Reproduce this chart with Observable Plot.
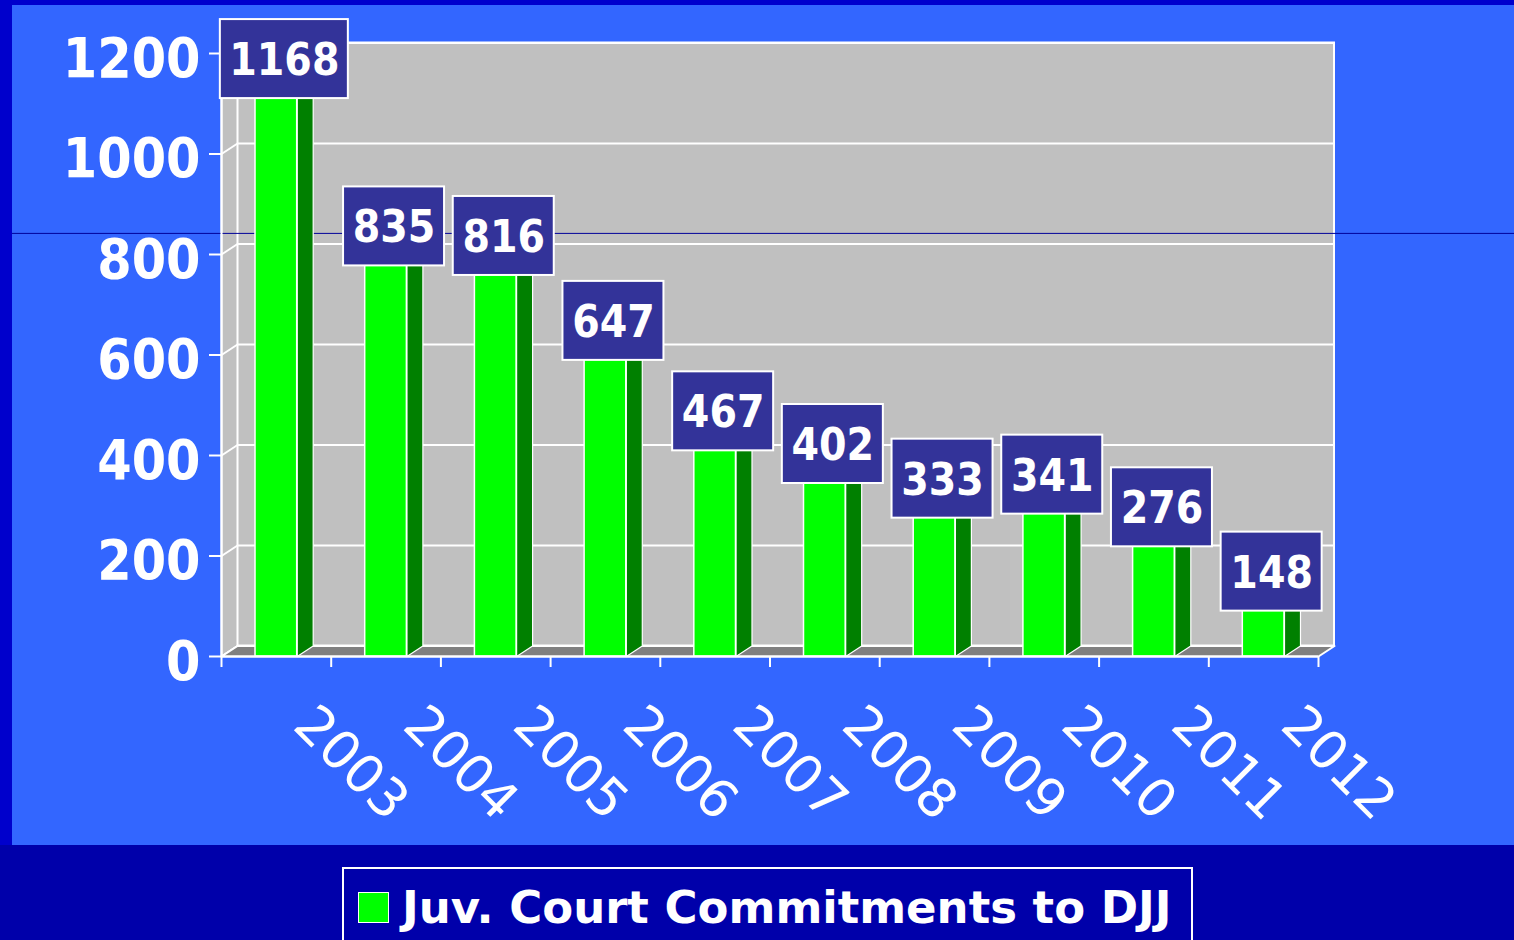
<!DOCTYPE html>
<html>
<head>
<meta charset="utf-8">
<script src="https://cdn.jsdelivr.net/npm/d3@7"></script>
<script src="https://cdn.jsdelivr.net/npm/@observablehq/plot@0.6"></script>
<style>
  html, body { margin: 0; padding: 0; background: #0000AA; }
  #page { position: relative; width: 1514px; height: 940px; overflow: hidden; background: #0000AA; }
  #topband { position: absolute; left: 0; top: 0; width: 1514px; height: 845px; background: #0000CC; }
  #chart { position: absolute; left: 12px; top: 5px; width: 1502px; height: 840px; }
  #chart svg { display: block; overflow: visible; }
  g[aria-label="year-labels"] text { letter-spacing: 3px; }
  #legend { position: absolute; left: 342px; top: 867px; width: 851px; height: 110px; box-sizing: border-box;
            border: 2px solid #ffffff; background: #0000AA; }
  #legend .sw { position: absolute; left: 14px; top: 23px; width: 31px; height: 31px; box-sizing: border-box;
                background: #00FF00; border: 1.5px solid #ffffff; }
  #legend .lab { position: absolute; left: 58px; top: 16px; white-space: nowrap; color: #ffffff;
                 font-family: "DejaVu Sans", Verdana, sans-serif; font-weight: bold; font-size: 45px; line-height: 45px; }
</style>
</head>
<body>
<div id="page">
  <div id="topband"></div>
  <div id="chart"></div>
  <div id="legend"><div class="sw"></div><div class="lab">Juv. Court Commitments to DJJ</div></div>
</div>
<script>
// ---- data ----
const years = ["2003", "2004", "2005", "2006", "2007", "2008", "2009", "2010", "2011", "2012"];
const commitments = [1168, 835, 816, 647, 467, 402, 333, 341, 276, 148];
const yTicks = [0, 200, 400, 600, 800, 1000, 1200];
const stripeLine = [842];
const seriesName = "Juv. Court Commitments to DJJ";

// ---- geometry ----
const W = 1502, H = 840;
const ML = 209, MR = 196, MT = 48, MB = 189;
const N = years.length;
const xPx = (W - ML - MR) / N;          // pixels per category
const yPx = (H - MT - MB) / 1200;       // pixels per unit
const DEPTH_X = 16, DEPTH_Y = 10.5;     // 3-D depth in pixels
const dxu = DEPTH_X / xPx, dyu = DEPTH_Y / yPx;
const FRONT_L = 0.31, FRONT_R = 0.69;   // bar front face within category

const rows = years.map((year, i) => ({year, i, value: commitments[i]}));
const xTickPos = years.map((_, i) => i).concat([N]);

// side faces of bars
const sides = rows.flatMap(d => {
  const xr = d.i + FRONT_R;
  return [
    {year: d.year, x: xr, y: 0},
    {year: d.year, x: xr + dxu, y: dyu},
    {year: d.year, x: xr + dxu, y: d.value + dyu},
    {year: d.year, x: xr, y: d.value},
    {year: d.year, x: xr, y: 0}
  ];
});
const leftWall = [
  {x: 0, y: 0}, {x: dxu, y: dyu}, {x: dxu, y: 1200 + dyu}, {x: 0, y: 1200}, {x: 0, y: 0}
];
const floor = [
  {x: 0, y: 0}, {x: N, y: 0}, {x: N + dxu, y: dyu}, {x: dxu, y: dyu}, {x: 0, y: 0}
];

const boxHalfH = 39.5 / yPx;
const boxes = rows.map(d => {
  const cx = d.i + 0.5 + dxu / 2;
  const w = (String(d.value).length * 27 + 20) / xPx;
  return {...d, cx, x1: cx - w / 2, x2: cx + w / 2, cy: d.value + dyu};
});

const condensed = "'DejaVu Sans Condensed', 'DejaVu Sans', Verdana, sans-serif";

const chart = Plot.plot({
  width: W,
  height: H,
  marginLeft: ML, marginRight: MR, marginTop: MT, marginBottom: MB,
  style: {background: "#3366FF", overflow: "visible"},
  x: {domain: [0, N], axis: null},
  y: {domain: [0, 1200], axis: null},
  marks: [
    // back wall
    Plot.rect([0], {x1: () => 0, x2: () => N, y1: () => 0, y2: () => 1200,
      dx: DEPTH_X, dy: -DEPTH_Y, fill: "#C0C0C0", stroke: "#ffffff", strokeWidth: 2}),
    Plot.ruleY(yTicks, {y: d => d, x1: () => 0, x2: () => N, dx: DEPTH_X, dy: -DEPTH_Y,
      stroke: "#ffffff", strokeWidth: 2}),
    // left wall
    Plot.line(leftWall, {x: "x", y: "y", fill: "#C0C0C0", stroke: "#ffffff", strokeWidth: 2}),
    Plot.link(yTicks, {x1: () => 0, y1: d => d, x2: () => dxu, y2: d => d + dyu,
      stroke: "#ffffff", strokeWidth: 2}),
    // floor
    Plot.line(floor, {x: "x", y: "y", fill: "#808080", stroke: "#ffffff", strokeWidth: 2}),
    // stray horizontal line
    Plot.ruleY(stripeLine, {stroke: "#000099", strokeWidth: 1, insetLeft: -ML, insetRight: -MR}),
    // bars
    Plot.line(sides, {x: "x", y: "y", z: "year", fill: "#008000", stroke: "#ffffff", strokeWidth: 1.2}),
    Plot.rect(rows, {x1: d => d.i + FRONT_L, x2: d => d.i + FRONT_R, y1: () => 0, y2: "value",
      fill: "#00FF00", stroke: "#ffffff", strokeWidth: 1.5}),
    // axes
    Plot.ruleX([0], {x: d => d, y1: () => 0, y2: () => 1200, stroke: "#ffffff", strokeWidth: 2}),
    Plot.ruleY([0], {y: d => d, x1: () => 0, x2: () => N, stroke: "#ffffff", strokeWidth: 2}),
    Plot.ruleX(xTickPos, {x: d => d, y1: () => 0, y2: () => 0, insetBottom: -11, stroke: "#ffffff", strokeWidth: 2}),
    Plot.ruleY(yTicks, {y: d => d, x1: () => 0, x2: () => 0, insetLeft: -12, stroke: "#ffffff", strokeWidth: 2}),
    Plot.text(yTicks, {x: () => 0, y: d => d, text: d => String(d), dx: -21, dy: 23,
      textAnchor: "end", lineAnchor: "bottom", fontSize: 55, fontWeight: "bold",
      fontFamily: condensed, fill: "#ffffff"}),
    Plot.text(rows, {x: d => d.i + 0.5, y: () => 0, text: "year", rotate: 45, dx: 15, dy: 71,
      textAnchor: "start", lineAnchor: "bottom", fontSize: 53,
      fontFamily: "'DejaVu Sans', Verdana, sans-serif", fill: "#ffffff", ariaLabel: "year-labels"}),
    // value boxes
    Plot.rect(boxes, {x1: "x1", x2: "x2", y1: d => d.cy - boxHalfH, y2: d => d.cy + boxHalfH,
      fill: "#333399", stroke: "#ffffff", strokeWidth: 2}),
    Plot.text(boxes, {x: "cx", y: "cy", text: d => String(d.value), dy: 16,
      textAnchor: "middle", lineAnchor: "bottom", fontSize: 44, fontWeight: "bold",
      fontFamily: condensed, fill: "#ffffff"})
  ]
});
document.getElementById("chart").appendChild(chart);
document.querySelector("#legend .lab").textContent = seriesName;
</script>
</body>
</html>
